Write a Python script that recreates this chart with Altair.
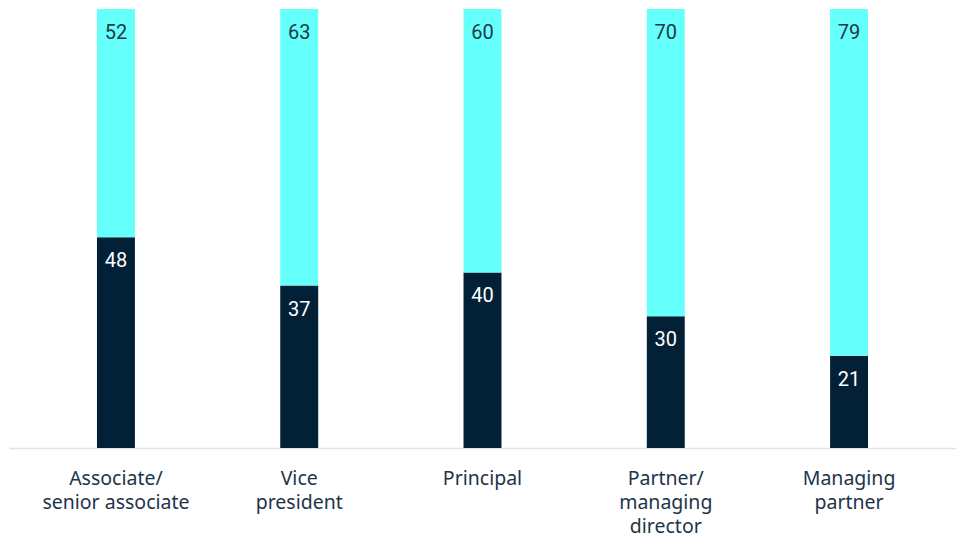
import altair as alt
import pandas as pd

categories = ["Associate/\nsenior associate", "Vice\npresident", "Principal",
              "Partner/\nmanaging\ndirector", "Managing\npartner"]
bottom_vals = [48, 37, 40, 30, 21]
top_vals = [52, 63, 60, 70, 79]
series = ["bottom", "top"]
colors = ["#022137", "#65FFFC"]
text_colors = ["#FFFFFF", "#22384A"]

rows = []
for i, c in enumerate(categories):
    rows.append({"cat": c, "series": "bottom", "order": 0, "value": bottom_vals[i]})
    rows.append({"cat": c, "series": "top", "order": 1, "value": top_vals[i]})
df = pd.DataFrame(rows)

xenc = alt.X("cat:N", sort=categories, title=None,
             scale=alt.Scale(paddingInner=0.793, paddingOuter=0.48),
             axis=alt.Axis(labelAngle=0, labelExpr="split(datum.label, '\\n')",
                           labelFont="Noto Sans", labelFontSize=19.5, labelColor="#1E3448",
                           labelLineHeight=24, labelPadding=21, ticks=False,
                           domainColor="#E2E2E2", domainWidth=1.5, labelBaseline="top"))

base = alt.Chart(df).transform_stack(
    stack="value", groupby=["cat"], as_=["y0", "y1"],
    sort=[alt.SortField("order", order="ascending")]
)

bars = base.mark_bar().encode(
    x=xenc,
    y=alt.Y("y0:Q", scale=alt.Scale(domain=[0, 100]), axis=None),
    y2="y1:Q",
    color=alt.Color("series:N", scale=alt.Scale(domain=series, range=colors), legend=None),
)

labels = base.mark_text(font="Roboto", fontSize=20, baseline="middle", dy=24).encode(
    x=alt.X("cat:N", sort=categories),
    y=alt.Y("y1:Q"),
    text=alt.Text("value:Q"),
    color=alt.Color("series:N", scale=alt.Scale(domain=series, range=text_colors), legend=None),
)

chart = alt.layer(bars, labels).resolve_scale(color="independent").properties(
    width=947, height=439,
    padding={"left": 9, "top": 9, "right": 6, "bottom": 0},
    background="white",
).configure_view(strokeWidth=0, stroke="transparent")

chart.save("out.html", embed_options={"renderer": "svg", "actions": False})
